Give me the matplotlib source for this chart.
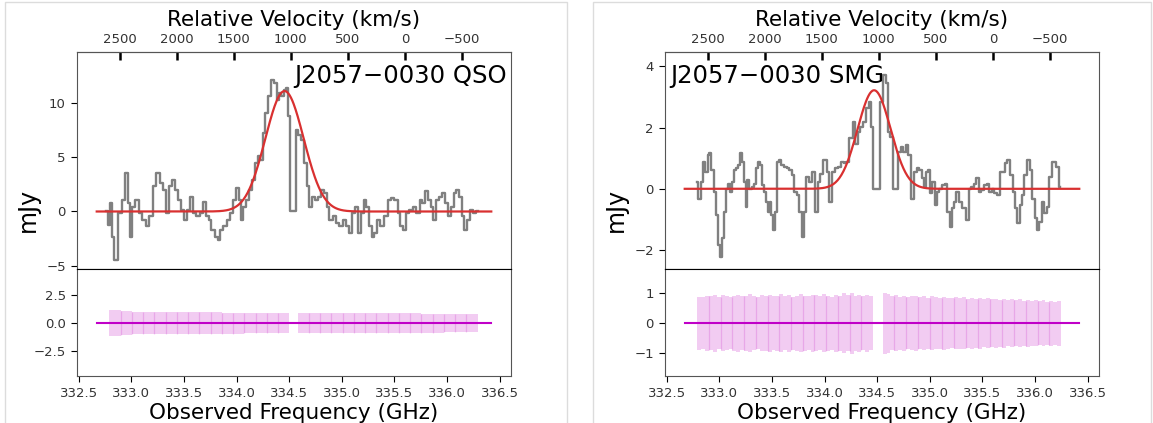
import numpy as np
import matplotlib
matplotlib.use("Agg")
import matplotlib.pyplot as plt
from matplotlib.patches import Rectangle

# QSO spectrum: observed frequency (GHz) and flux (mJy)
qso_freq = [332.762, 332.786, 332.803, 332.821, 332.856, 332.891, 332.925, 332.953, 332.978, 332.995,
            333.020, 333.054, 333.082, 333.117, 333.152, 333.187, 333.222, 333.250, 333.285, 333.309,
            333.344, 333.368, 333.396, 333.424, 333.459, 333.483, 333.511, 333.543, 333.571, 333.599,
            333.633, 333.661, 333.693, 333.721, 333.745, 333.773, 333.808, 333.832, 333.857, 333.891,
            333.926, 333.954, 333.982, 334.007, 334.031, 334.052, 334.076, 334.101, 334.136, 334.163,
            334.188, 334.212, 334.240, 334.261, 334.286, 334.313, 334.345, 334.373, 334.390, 334.415,
            334.435, 334.460, 334.477, 334.495, 334.512, 334.547, 334.575, 334.599, 334.624, 334.652,
            334.680, 334.704, 334.728, 334.756, 334.791, 334.819, 334.843, 334.868, 334.896, 334.931,
            334.959, 334.993, 335.028, 335.056, 335.088, 335.112, 335.140, 335.168, 335.192, 335.220,
            335.245, 335.272, 335.297, 335.321, 335.349, 335.384, 335.419, 335.454, 335.482, 335.517,
            335.541, 335.565, 335.593, 335.628, 335.656, 335.691, 335.726, 335.750, 335.775, 335.803,
            335.830, 335.855, 335.879, 335.907, 335.935, 335.963, 335.994, 336.019, 336.047, 336.075,
            336.102, 336.127, 336.151, 336.176, 336.204, 336.228, 336.263, 336.291]
qso_flux = [0.0, -1.23, 0.77, -2.31, -4.46, -0.15, 1.08, 3.54, 0.77, -2.31,
            0.46, 1.08, -0.15, -0.77, -1.38, -0.46, 2.31, 3.54, 2.62, 2.0,
            -0.15, 2.31, 2.92, 2.0, 1.08, 0.15, -0.77, 0.15, 1.38, -0.15,
            -0.46, -0.15, 0.92, -0.46, -0.77, -1.69, -2.31, -2.62, -1.69, -1.38,
            -0.77, -0.15, 1.08, 2.15, 1.08, -0.77, 0.46, 1.08, 2.0, 2.92,
            4.46, 5.08, 4.77, 7.23, 9.08, 10.62, 12.15, 11.85, 10.31, 10.92,
            10.62, 11.23, 11.38, 8.77, 0.0, 0.0, 7.54, 7.08, 6.62, 4.46,
            2.31, 0.46, 1.38, 1.08, 1.38, 2.0, 1.69, 0.46, -0.77, -0.46,
            -1.08, -1.38, -0.77, -1.38, -2.0, -0.15, 0.46, -2.0, -0.15, 1.08,
            0.46, -1.38, -2.31, -2.0, -0.77, -1.38, -0.46, 1.08, 1.23, 1.08,
            -0.15, -1.38, -1.69, -0.15, 0.15, 0.46, -0.15, 1.08, 0.77, 1.85,
            1.08, 0.46, -0.77, 1.08, 1.38, 1.69, 0.77, -0.46, 0.46, 1.69,
            2.0, 1.38, -0.46, -1.69, -0.77, 0.15, -0.15, 0.0]

# SMG spectrum
smg_freq = [332.787, 332.812, 332.833, 332.855, 332.877, 332.896, 332.914, 332.933, 332.955, 332.976,
            332.995, 333.013, 333.032, 333.051, 333.069, 333.088, 333.107, 333.125, 333.144, 333.166,
            333.187, 333.206, 333.225, 333.243, 333.259, 333.274, 333.296, 333.318, 333.336, 333.355,
            333.374, 333.392, 333.411, 333.430, 333.448, 333.467, 333.485, 333.504, 333.523, 333.541,
            333.560, 333.579, 333.600, 333.625, 333.650, 333.675, 333.700,
            333.725, 333.749, 333.771, 333.790, 333.808, 333.833, 333.864, 333.895, 333.920, 333.945,
            333.973, 334.004, 334.032, 334.060, 334.088, 334.113, 334.144, 334.169, 334.193, 334.218,
            334.252, 334.280, 334.302, 334.327, 334.352, 334.380, 334.405, 334.429, 334.451, 334.473,
            334.510, 334.541, 334.566, 334.591, 334.613, 334.634, 334.659, 334.687, 334.709, 334.734,
            334.759, 334.783, 334.808, 334.833, 334.858, 334.889,
            334.912, 334.935, 334.955, 334.975, 334.995, 335.014, 335.035, 335.054, 335.079, 335.104,
            335.126, 335.153, 335.178, 335.200, 335.219, 335.240, 335.265, 335.290, 335.312, 335.334,
            335.358, 335.383, 335.405, 335.427, 335.452, 335.476, 335.501, 335.526, 335.551, 335.576,
            335.601, 335.625, 335.650, 335.675, 335.700, 335.725, 335.750, 335.775, 335.796, 335.818,
            335.843, 335.865, 335.886, 335.911, 335.936, 335.961, 335.986, 336.007, 336.029, 336.051,
            336.073, 336.098, 336.120, 336.145, 336.180, 336.215, 336.240]
smg_flux = [0.23, -0.32, 0.23, 0.88, 0.56, 1.10, 1.16, 0.61, -0.10, -0.86,
            -1.84, -2.22, -1.62, -0.75, 0.01, 0.17, -0.10, 0.23, 0.61, 0.67,
            0.77, 1.16, 0.88, 0.23, -0.59, 0.28, 0.01, 0.07, 0.17, 0.67,
            0.88, 0.77, 0.12, -0.10, -0.43, -0.75, -0.43, -0.86, -1.35, -0.75,
            0.88, 0.94, 0.77, 0.72, 0.67, 0.61, 0.45,
            -0.10, -0.21, -0.75, -1.57, -0.75, 0.39, 0.23, 0.56, -0.75, 0.23,
            0.50, 0.94, 0.56, -0.43, 0.56, 0.67, 0.72, 0.88, 0.83, 0.88,
            1.65, 2.19, 1.48, 1.86, 2.03, 2.19, 2.63, 2.85, 2.03, 0.0,
            0.0, 2.85, 3.72, 3.45, 1.86, 1.70, 0.0, 0.0, 1.21, 1.37,
            1.21, 1.43, 1.10, -0.32, 0.56, 0.67,
            0.61, 0.34, 0.07, 0.56, 0.61, -0.15, 0.23, -0.53, -0.10, 0.01,
            0.12, 0.17, -0.75, -1.24, -0.64, -0.43, -0.10, -0.43, -0.64, -0.64,
            -1.03, 0.01, 0.07, 0.17, 0.34, -0.10, -0.04, 0.12, 0.17, -0.10,
            0.01, -0.15, -0.21, 0.56, 0.56, 0.83, 0.94, 0.45, -0.10, -0.64,
            -1.13, -0.53, -0.21, 0.45, 0.94, 0.61, -0.32, -0.97, -1.35, -1.08,
            -0.43, -0.80, -0.59, 0.39, 0.88, 0.72, 0.07]

# gaussian fits: amplitude (mJy), centre (GHz), sigma (GHz)
qso_fit = (11.1, 334.455, 0.182)
smg_fit = (3.22, 334.47, 0.157)
model_lo, model_hi = 332.67, 336.42

# 1-sigma noise, two pieces each (gap where channels are flagged)
qso_err_ranges = [(332.79, 334.50), (334.58, 336.29)]
qso_err = [[1.15, 1.06, 1.02, 1.00, 0.99, 0.98, 0.97, 0.97, 0.96, 0.96, 0.95, 0.95, 0.94, 0.94, 0.93, 0.93],
           [0.92, 0.91, 0.91, 0.90, 0.90, 0.89, 0.89, 0.88, 0.88, 0.87, 0.87, 0.86, 0.86, 0.85, 0.85, 0.84]]
smg_err_ranges = [(332.79, 334.46), (334.55, 336.25)]
smg_err = [[0.88, 0.86, 0.92, 0.90, 0.95, 0.87, 0.93, 0.90, 0.86, 0.91, 0.94, 0.89, 0.92, 0.96, 0.90,
            0.87, 0.93, 0.91, 0.95, 0.89, 0.92, 0.97, 0.90, 0.94, 0.88, 0.92, 0.96, 0.91, 0.89, 0.95,
            0.93, 0.90, 0.97, 0.92, 0.88, 0.94, 0.91, 0.99, 0.93, 1.02, 0.92, 0.95, 0.90, 0.94, 0.90],
           [1.02, 0.98, 0.90, 0.93, 0.88, 0.91, 0.87, 0.90, 0.92, 0.86, 0.89, 0.85, 0.90, 0.87, 0.84,
            0.88, 0.85, 0.83, 0.87, 0.84, 0.86, 0.82, 0.85, 0.81, 0.84, 0.80, 0.83, 0.79, 0.82, 0.78,
            0.81, 0.77, 0.80, 0.76, 0.79, 0.75, 0.78, 0.74, 0.77, 0.73, 0.76, 0.72, 0.75, 0.72, 0.74]]

vel_ticks = [2500, 2000, 1500, 1000, 500, 0, -500]
F0 = 335.60      # zero velocity (GHz)
GHZ_PER_KMS = 1.085e-3


def f2v(f):
    return (F0 - np.asarray(f)) / GHZ_PER_KMS


def v2f(v):
    return F0 - np.asarray(v) * GHZ_PER_KMS


def gauss(f, amp, cen, sig):
    return amp * np.exp(-0.5 * ((f - cen) / sig) ** 2)


W, H = 1153, 423
fig = plt.figure(figsize=(W / 100, H / 100), dpi=100)

# grey card borders of the two screenshots
for x0, x1 in [(4.5, 567), (593, 1151)]:
    fig.add_artist(Rectangle((x0 / W, -0.05), (x1 - x0) / W, 1.05 - 2.5 / H,
                             transform=fig.transFigure, fill=False,
                             edgecolor="#dcdcdc", lw=1.0))

# left px, data..., seam every n bars
panels = [
    (77, qso_freq, qso_flux, qso_fit, qso_err_ranges, qso_err, 1, "J2057\u22120030 QSO",
     (-5.3, 14.7), [-5, 0, 5, 10], (-4.8, 4.9), [-2.5, 0.0, 2.5], "right"),
    (665, smg_freq, smg_flux, smg_fit, smg_err_ranges, smg_err, 3, "J2057\u22120030 SMG",
     (-2.62, 4.47), [-2, 0, 2, 4], (-1.75, 1.8), [-1, 0, 1], "left"),
]

model_f = np.linspace(model_lo, model_hi, 600)

for (left, freq, flux, fit, err_ranges, errs, seam, name,
     ylim_top, yt_top, ylim_bot, yt_bot, text_side) in panels:
    ax = fig.add_axes([left / W, 1 - 269 / H, 434 / W, 217 / H])
    axb = fig.add_axes([left / W, 1 - 376 / H, 434 / W, 107 / H], sharex=ax)

    # spectrum + fit
    ax.step(freq, flux, where="mid", color="#808080", lw=1.7)
    ax.plot(model_f, gauss(model_f, *fit), color="#d93030", lw=1.6)
    ax.set_ylim(*ylim_top)
    ax.set_yticks(yt_top)
    ax.set_ylabel("mJy", fontsize=17)
    ax.yaxis.set_label_coords(-0.085, 0.27)
    ax.tick_params(axis="x", bottom=False, labelbottom=False)
    ax.tick_params(axis="y", direction="out", length=4.5, labelsize=9.5, labelcolor="#333333")
    for s in ["left", "right", "top"]:
        ax.spines[s].set_color("#555555")
    ax.spines["bottom"].set_color("black")

    if text_side == "right":
        ax.text(0.99, 0.945, name, transform=ax.transAxes, ha="right", va="top", fontsize=17.5)
    else:
        ax.text(0.012, 0.945, name, transform=ax.transAxes, ha="left", va="top", fontsize=17.5)

    # velocity axis on top
    sec = ax.secondary_xaxis("top", functions=(f2v, v2f))
    sec.set_xticks(vel_ticks)
    sec.tick_params(direction="in", length=6, width=1.8, labelsize=9.5, labelcolor="#333333", pad=4)
    sec.set_xlabel("Relative Velocity (km/s)", fontsize=15.5, labelpad=5)
    sec.spines["top"].set_color("#555555")

    # noise panel
    for (lo, hi), e in zip(err_ranges, errs):
        e = np.asarray(e)
        w = (hi - lo) / len(e)
        centres = np.linspace(lo + w / 2, hi - w / 2, len(e))
        axb.bar(centres, 2 * e, bottom=-e, width=w, color="m", alpha=0.2, linewidth=0)
        # faint seams between chunks of bars
        idx = np.arange(seam, len(e), seam)
        h = np.minimum(e[idx - 1], e[idx])
        axb.vlines(centres[idx] - w / 2, -h, h, color="m", alpha=0.18, lw=0.9)
    axb.plot(model_f, np.zeros_like(model_f), color="#c000c8", lw=1.5)
    axb.set_ylim(*ylim_bot)
    axb.set_yticks(yt_bot)
    axb.set_xticks([332.5, 333.0, 333.5, 334.0, 334.5, 335.0, 335.5, 336.0, 336.5])
    axb.xaxis.set_major_formatter(plt.FormatStrFormatter("%.1f"))
    axb.tick_params(direction="out", length=4.5, labelsize=9.5, labelcolor="#333333")
    axb.set_xlabel("Observed Frequency (GHz)", fontsize=15.5, labelpad=2)
    for s in ["left", "right", "bottom"]:
        axb.spines[s].set_color("#555555")
    axb.spines["top"].set_color("black")
    ax.set_xlim(model_lo - 0.1875, model_hi + 0.1875)

fig.savefig("out.png", dpi=100)
